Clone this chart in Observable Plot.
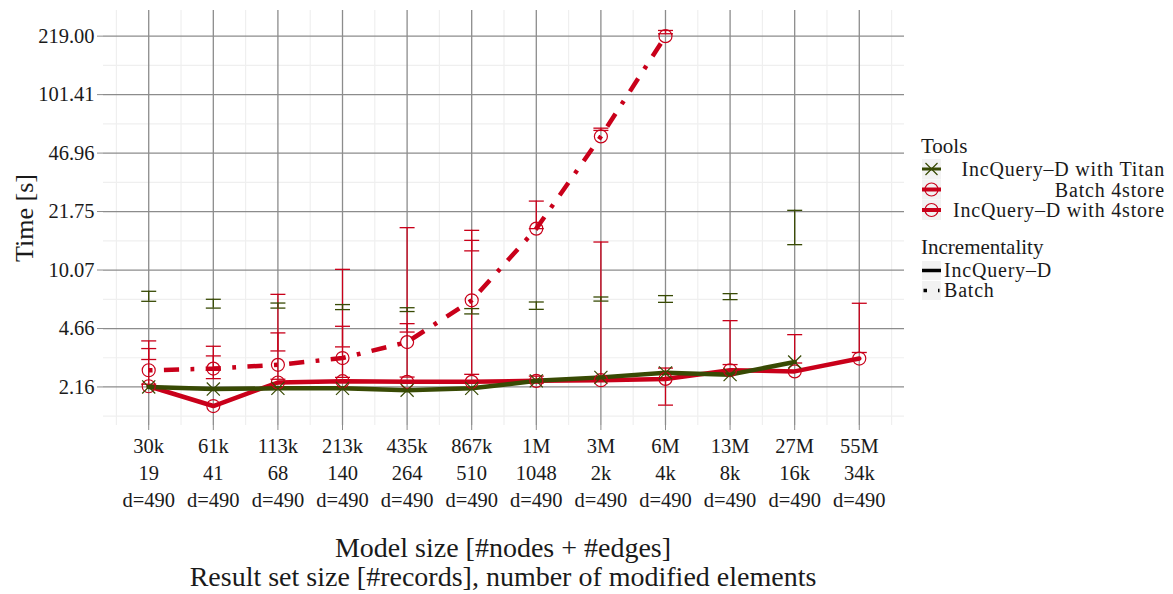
<!DOCTYPE html>
<html><head><meta charset="utf-8">
<script src="https://cdn.jsdelivr.net/npm/d3@7"></script>
<script src="https://cdn.jsdelivr.net/npm/@observablehq/plot@0.6"></script>
<style>
body{margin:0;background:#fff;}
#wrap{position:relative;width:1173px;height:594px;}
#wrap svg, #wrap svg text, #wrap svg tspan { font-family: "Liberation Serif", "Times New Roman", "DejaVu Serif", serif !important; }
</style></head><body><div id="wrap"></div>
<script>
// ---- data ----
const modelSizes = ["30k","61k","113k","213k","435k","867k","1M","3M","6M","13M","27M","55M"];
const resultSizes = ["19","41","68","140","264","510","1048","2k","4k","8k","16k","34k"];
const modifiedElements = ["d=490","d=490","d=490","d=490","d=490","d=490","d=490","d=490","d=490","d=490","d=490","d=490"];
const yTickValues = [2.16, 4.66, 10.07, 21.75, 46.96, 101.41, 219.00];

const titanTime = [2.16, 2.10, 2.12, 2.12, 2.07, 2.12, 2.34, 2.45, 2.60, 2.54, 3.00, null];
const titanLow  = [6.67, 6.10, 6.10, 5.98, 5.83, 5.65, 6.00, 6.69, 6.58, 6.82, 14.06, null];
const titanHigh = [7.61, 6.85, 6.52, 6.39, 6.13, 6.06, 6.61, 7.06, 7.19, 7.38, 22.1, null];

const batchTime = [2.69, 2.75, 2.89, 3.16, 3.90, 6.76, 17.37, 58.5, 219.0, null, null, null];
const batchLow  = [3.10, 2.69, 3.47, 3.66, 4.45, 12.96, 17.37, 63.3, 226, null, null, null];
const batchHigh = [3.96, 3.69, 7.31, 10.16, 17.59, 16.98, 24.96, 65.2, 236, null, null, null];

const incTime = [2.18, 1.68, 2.29, 2.33, 2.31, 2.31, 2.34, 2.36, 2.40, 2.69, 2.65, 3.14];
const incLow  = [2.24, 2.41, 2.39, 2.45, 2.46, 2.55, 2.27, 2.39, 1.70, 2.90, 2.96, 3.40];
const incHigh = [3.58, 3.25, 4.40, 4.80, 4.97, 14.88, 2.49, 14.56, 2.77, 5.17, 4.30, 6.50];

const toolNames = ["IncQuery–D with Titan", "Batch 4store", "IncQuery–D with 4store"];
const incrementalityNames = ["IncQuery–D", "Batch"];

// ---- styles ----
const RED = "#c9001a", GREEN = "#384a04", TEXT = "#1a1a1a", GRID = "#8c8c8c", MINOR = "#efefef";
const FONT = "Liberation Serif, DejaVu Serif, serif";

const idx = modelSizes.map((_, i) => i);
function rows(vals, lo, hi) {
  return idx.map(i => ({i, v: vals[i], lo: lo[i], hi: hi[i]})).filter(d => d.v != null);
}
const titanRows = rows(titanTime, titanLow, titanHigh);
const batchRows = rows(batchTime, batchLow, batchHigh);
const incRows = rows(incTime, incLow, incHigh);
const titanErr = idx.map(i => ({i, lo: titanLow[i], hi: titanHigh[i]})).filter(d => d.lo != null);
const batchErr = idx.map(i => ({i, lo: batchLow[i], hi: batchHigh[i]})).filter(d => d.lo != null);
const incErr = idx.map(i => ({i, lo: incLow[i], hi: incHigh[i]})).filter(d => d.lo != null);

// minor grid: geometric midpoints between y ticks, and halfway between categories
const yMinor = [yTickValues[0] / Math.sqrt(yTickValues[1] / yTickValues[0])]
  .concat(yTickValues.slice(1).map((t, k) => Math.sqrt(t * yTickValues[k])));
const xMinor = [-0.5].concat(idx.map(i => i + 0.5));

const capSymbol = {draw(ctx, size) { const w = Math.sqrt(size / Math.PI); ctx.moveTo(-w, 0); ctx.lineTo(w, 0); }};

function errMarks(data, color) {
  return [
    Plot.ruleX(data, {x: "i", y1: "lo", y2: "hi", stroke: color, strokeWidth: 1.3}),
    Plot.dot(data, {x: "i", y: "lo", symbol: capSymbol, r: 7.5, stroke: color, strokeWidth: 1.3}),
    Plot.dot(data, {x: "i", y: "hi", symbol: capSymbol, r: 7.5, stroke: color, strokeWidth: 1.3})
  ];
}

const chart = Plot.plot({
  width: 1173,
  height: 594,
  marginLeft: 103,
  marginRight: 269,
  marginTop: 10,
  marginBottom: 169,
  style: {fontFamily: FONT, background: "white", color: TEXT},
  x: {type: "linear", domain: [-0.7, 11.7]},
  y: {type: "log", domain: [1.30, 307]},
  marks: [
    Plot.ruleX(xMinor, {stroke: MINOR, strokeWidth: 1.2}),
    Plot.ruleY(yMinor, {stroke: MINOR, strokeWidth: 1.2}),
    Plot.ruleX(idx, {stroke: GRID, strokeWidth: 1.3}),
    Plot.ruleY(yTickValues, {stroke: GRID, strokeWidth: 1.3}),
    Plot.axisY({ticks: yTickValues, tickFormat: d => d.toFixed(2), fontSize: 20.5, tickSize: 6, tickPadding: 3, stroke: GRID, fill: TEXT, label: null}),
    Plot.axisX({ticks: idx, tickFormat: i => `${modelSizes[i]}\n${resultSizes[i]}\n${modifiedElements[i]}`,
      fontSize: 20.5, lineHeight: 1.3, tickSize: 5, tickPadding: 4, stroke: GRID, fill: TEXT, label: null}),
    ...errMarks(batchErr, RED),
    ...errMarks(incErr, RED),
    ...errMarks(titanErr, GREEN),
    Plot.line(incRows, {x: "i", y: "v", stroke: RED, strokeWidth: 4.5}),
    Plot.line(batchRows, {x: "i", y: "v", stroke: RED, strokeWidth: 4.5, strokeDasharray: "3.8,11.4,15.2,11.4", strokeLinecap: "butt"}),
    Plot.line(titanRows, {x: "i", y: "v", stroke: GREEN, strokeWidth: 4.5}),
    Plot.dot(incRows, {x: "i", y: "v", r: 6.5, stroke: RED, fill: "none", strokeWidth: 1.2}),
    Plot.dot(batchRows, {x: "i", y: "v", r: 6.5, stroke: RED, fill: "none", strokeWidth: 1.2}),
    Plot.dot(titanRows, {x: "i", y: "v", r: 6, symbol: "times", stroke: GREEN, strokeWidth: 1.2})
  ]
});

document.getElementById("wrap").appendChild(chart);
const svg = d3.select(chart);

function addText(parent, x, y, size, anchor, str) {
  return parent.append("text").attr("x", x).attr("y", y).attr("font-size", size)
    .attr("text-anchor", anchor).attr("fill", TEXT).style("font-family", FONT).text(str);
}

// axis titles
addText(svg, 0, 0, 26, "middle", "Time [s]").attr("transform", "translate(33,218) rotate(-90)");
addText(svg, 503, 557, 28, "middle", "Model size [#nodes + #edges]");
addText(svg, 503, 586, 28, "middle", "Result set size [#records], number of modified elements");

// legend
const lg = svg.append("g").attr("transform", "translate(910,130)");
addText(lg, 11, 23, 21, "start", "Tools");
const toolRowsY = [29, 49.5, 70];
toolNames.forEach((name, k) => {
  const y0 = toolRowsY[k], cy = y0 + 10;
  lg.append("rect").attr("x", 12).attr("y", y0).attr("width", 19).attr("height", 20).attr("fill", "#f2f2f2");
  if (k === 0) {
    lg.append("line").attr("x1", 12).attr("x2", 31).attr("y1", cy).attr("y2", cy).attr("stroke", GREEN).attr("stroke-width", 3);
    lg.append("path").attr("d", `M${21.5-6},${cy-6}L${21.5+6},${cy+6}M${21.5-6},${cy+6}L${21.5+6},${cy-6}`).attr("stroke", GREEN).attr("stroke-width", 1.2);
  } else {
    lg.append("line").attr("x1", 12).attr("x2", 31).attr("y1", cy).attr("y2", cy).attr("stroke", RED).attr("stroke-width", 4);
    lg.append("circle").attr("cx", 21.5).attr("cy", cy).attr("r", 6.5).attr("fill", "none").attr("stroke", RED).attr("stroke-width", 1.2);
  }
  addText(lg, 255, cy + 7, 20, "end", name).attr("letter-spacing", 0.8);
});
addText(lg, 11, 124, 21, "start", "Incrementality");
const incRowsY = [131, 151];
incrementalityNames.forEach((name, k) => {
  const y0 = incRowsY[k], cy = y0 + 9.5;
  lg.append("rect").attr("x", 12).attr("y", y0).attr("width", 19).attr("height", 19).attr("fill", "#f2f2f2");
  const ln = lg.append("line").attr("x1", 12).attr("x2", 31).attr("y1", cy).attr("y2", cy).attr("stroke", "#000").attr("stroke-width", 3.5);
  if (k === 1) ln.attr("stroke-dasharray", "0,1.5,3.5,11,1.5,10");
  addText(lg, 34, cy + 6.5, 20, "start", name).attr("letter-spacing", 0.8);
});
</script>
</body></html>
